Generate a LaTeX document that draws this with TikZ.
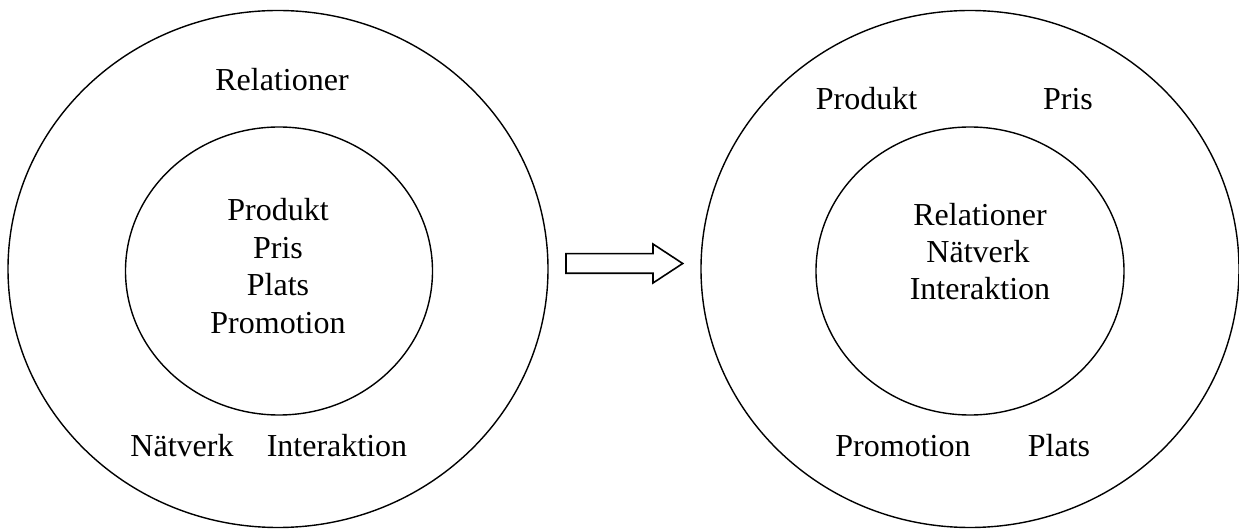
\documentclass[tikz,border=0pt]{standalone}
\usepackage{fontspec}
\setmainfont{Liberation Serif}
\usetikzlibrary{shapes.geometric}
\begin{document}
\begin{tikzpicture}[x=0.5pt,y=-0.5pt,
  ring/.style={draw=black, line width=0.7pt, ellipse, inner sep=0pt, outer sep=0pt},
  lbl/.style={anchor=base, inner sep=0pt, font=\fontsize{16}{19}\selectfont},
  fatarrow/.style={draw=black, line width=0.8pt, fill=white, line join=miter}]
\useasboundingbox (0,0) rectangle (1239,529);
% left diagram
\node[ring, minimum width=270pt, minimum height=258.5pt] (Lout) at (278,269) {};
\node[ring, minimum width=153.5pt, minimum height=144pt] (Lin) at (279,271) {};
\node[lbl] (L1) at (282,91) {Relationer};
\node[lbl] (L2) at (278,221) {Produkt};
\node[lbl] (L3) at (278,258.5) {Pris};
\node[lbl] (L4) at (278,296) {Plats};
\node[lbl] (L5) at (278,333.5) {Promotion};
\node[lbl] (L6) at (182,457) {Nätverk};
\node[lbl] (L7) at (337,457) {Interaktion};
% arrow
\draw[fatarrow] (566,253.7) -- (653,253.7) -- (653,244) -- (682.7,263.5) -- (653,283) -- (653,273.3) -- (566,273.3) -- cycle;
% right diagram
\node[ring, minimum width=269pt, minimum height=258.5pt] (Rout) at (970,269) {};
\node[ring, minimum width=154pt, minimum height=144pt] (Rin) at (970,271) {};
\node[lbl] (R1) at (866.5,110) {Produkt};
\node[lbl] (R2) at (1068,110) {Pris};
\node[lbl] (R3) at (980,226) {Relationer};
\node[lbl] (R4) at (978,263) {Nätverk};
\node[lbl] (R5) at (980,300) {Interaktion};
\node[lbl] (R6) at (903,457) {Promotion};
\node[lbl] (R7) at (1059,457) {Plats};
\end{tikzpicture}
\end{document}
